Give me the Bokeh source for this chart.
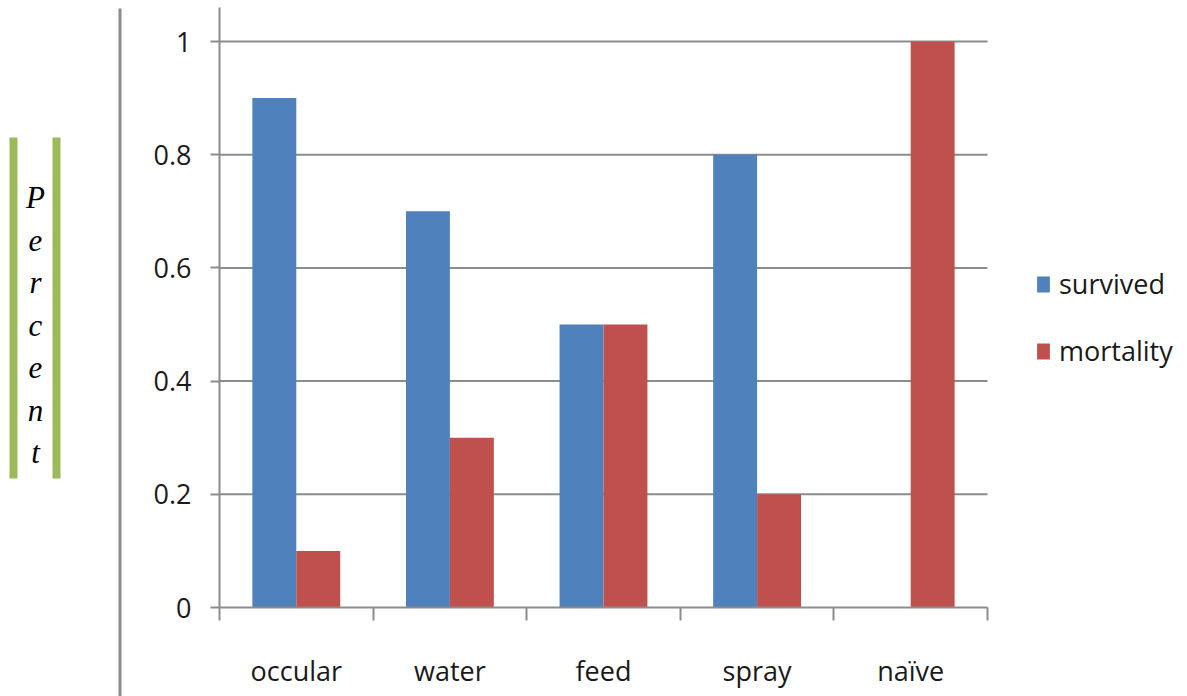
from bokeh.plotting import figure
from bokeh.models import Range1d, FixedTicker, Legend, LegendItem, ColumnDataSource
from bokeh.core.properties import value
from bokeh.embed import file_html
from bokeh.resources import INLINE

categories = ["occular", "water", "feed", "spray", "naïve"]
survived = [0.9, 0.7, 0.5, 0.8, 0.0]
mortality = [0.1, 0.3, 0.5, 0.2, 1.0]
y_ticks = [0, 0.2, 0.4, 0.6, 0.8, 1.0]
y_tick_labels = ["0", "0.2", "0.4", "0.6", "0.8", "1"]
axis_title = "Percent"

BLUE = "#4F81BD"
RED = "#C0504D"
GREEN = "#9BBB59"
GRAY = "#8c8c8c"
FONT = "Open Sans"
TXT = "#1a1a1a"

W, H = 1187, 696
# pixel layout of the plotting area inside the canvas
AX_LEFT, AX_RIGHT, AX_ZERO, AX_ONE = 219, 987, 607, 41
n = len(categories)
cat_px = (AX_RIGHT - AX_LEFT) / n
unit_px = AX_ZERO - AX_ONE

x_range = Range1d(-AX_LEFT / cat_px, (W - AX_LEFT) / cat_px)
y_range = Range1d(-(H - AX_ZERO) / unit_px, AX_ZERO / unit_px)

centers = [i + 0.5 for i in range(n)]
bw = 0.286
src = ColumnDataSource(dict(
    xs=[c - bw / 2 for c in centers], xm=[c + bw / 2 for c in centers],
    survived=survived, mortality=mortality))

p = figure(width=W, height=H, x_range=x_range, y_range=y_range,
           output_backend="svg", toolbar_location=None, min_border=0)
p.outline_line_color = None
p.grid.visible = False
p.extra_x_ranges = {"px": Range1d(0, W)}
p.extra_y_ranges = {"py": Range1d(H, 0)}

# horizontal gridlines across the category span
p.segment(x0=[0] * (len(y_ticks) - 1), x1=[n] * (len(y_ticks) - 1),
          y0=y_ticks[1:], y1=y_ticks[1:], line_color=GRAY, line_width=2, level="underlay")

r1 = p.vbar(x="xs", top="survived", width=bw, source=src, fill_color=BLUE, line_color=None)
r2 = p.vbar(x="xm", top="mortality", width=bw, source=src, fill_color=RED, line_color=None)

# y axis
ya = p.yaxis[0]
ya.fixed_location = 0
ya.bounds = (0, 1.06)
ya.ticker = FixedTicker(ticks=y_ticks)
ya.major_label_overrides = {t: l for t, l in zip(y_ticks, y_tick_labels)}
ya.axis_line_color = GRAY
ya.axis_line_width = 2
ya.major_tick_line_color = GRAY
ya.major_tick_line_width = 2
ya.major_tick_out = 9
ya.major_tick_in = 0
ya.minor_tick_line_color = None
ya.major_label_standoff = 19
ya.major_label_text_font = FONT
ya.major_label_text_font_size = "27px"
ya.major_label_text_color = TXT

# x axis: boundary ticks as minor ticks, category names at centres
xa = p.xaxis[0]
xa.fixed_location = 0
xa.bounds = (0, n)
xa.ticker = FixedTicker(ticks=centers, minor_ticks=list(range(n + 1)))
xa.major_label_overrides = {c: l for c, l in zip(centers, categories)}
xa.axis_line_color = GRAY
xa.axis_line_width = 2
xa.major_tick_line_color = None
xa.major_tick_out = 0
xa.major_tick_in = 0
xa.minor_tick_line_color = GRAY
xa.minor_tick_line_width = 2
xa.minor_tick_out = 13
xa.minor_tick_in = 0
xa.major_label_standoff = 31
xa.major_label_text_font = FONT
xa.major_label_text_font_size = "27px"
xa.major_label_text_color = TXT

# legend to the right of the bars
legend = Legend(items=[LegendItem(label="survived", renderers=[r1]),
                       LegendItem(label="mortality", renderers=[r2])],
                location=(1035, H - 369), orientation="vertical",
                glyph_width=16, glyph_height=20, label_text_font=FONT,
                label_text_font_size="27px", label_text_color=TXT,
                spacing=30, padding=0, margin=0, border_line_color=None,
                background_fill_alpha=0, label_standoff=8)
p.add_layout(legend, "center")

# left decorations: rule line, green bars and the stacked title (pixel ranges)
kw = dict(x_range_name="px", y_range_name="py")
p.quad(left=[118], right=[121], top=[8], bottom=[H], fill_color=GRAY, line_color=None, **kw)
p.quad(left=[9, 52], right=[17, 60], top=[137, 137], bottom=[478, 478],
       fill_color=GREEN, line_color=None, **kw)
letters = list(axis_title)
p.text(x=[35] * len(letters), y=[197 + 42.5 * i for i in range(len(letters))], text=letters,
       text_font=value("Liberation Serif"), text_font_style="italic", text_font_size="31px",
       text_align="center", text_baseline="alphabetic", text_color="#000000", **kw)

open("out.html", "w").write(file_html(p, INLINE))
